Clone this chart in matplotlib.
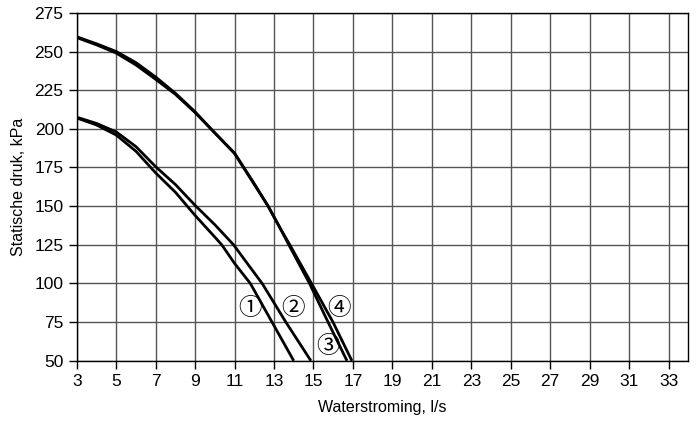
import matplotlib
matplotlib.use("Agg")
import matplotlib.pyplot as plt

# Curve data (flow l/s, static pressure kPa)
c1_x = [3, 4, 5, 6, 7, 8, 8.6, 9, 10, 10.35, 11, 11.8, 12.9, 14.0]
c1_y = [207, 202.5, 196, 185.5, 171.5, 159, 150, 144, 130, 125, 113, 100, 75, 50]

c2_x = [3, 4, 5, 6, 7, 8, 9, 10, 10.95, 11.7, 12.4, 13.6, 14.87]
c2_y = [207.5, 203.5, 198, 188.5, 175.5, 164, 150.5, 138, 125, 112, 100, 75, 50]

c3_x = [3, 4, 5, 6, 7, 8, 9, 9.8, 11, 12, 12.7, 13.3, 13.75, 14.8, 15.74, 16.7]
c3_y = [259, 254.3, 249, 241.3, 232, 222.3, 210.5, 200, 184, 164, 150, 136, 125, 100, 75, 50]

c4_x = [3, 4, 5, 6, 7, 8, 9, 9.8, 11, 12, 12.7, 13.3, 13.8, 14.9, 15.99, 16.95]
c4_y = [259.5, 255, 250, 242.8, 233.5, 223, 211, 200, 184.3, 164.5, 150, 136, 125, 100, 75, 50]

curve_labels = ["\u2460", "\u2461", "\u2462", "\u2463"]
label_x = [11.76, 13.95, 15.74, 16.32]
label_y = [84, 84, 59, 84]

x_ticks = list(range(3, 34, 2))
y_ticks = list(range(50, 276, 25))

plt.rcParams['font.family'] = ['Liberation Sans', 'DejaVu Sans']

fig = plt.figure(figsize=(6.98, 4.28), dpi=100)
ax = fig.add_axes([0.110, 0.157, 0.876, 0.813])

for xs, ys in [(c1_x, c1_y), (c2_x, c2_y), (c3_x, c3_y), (c4_x, c4_y)]:
    ax.plot(xs, ys, color='black', lw=2.0, solid_capstyle='butt',
            solid_joinstyle='round', zorder=3)

for t, lx, ly in zip(curve_labels, label_x, label_y):
    ax.text(lx, ly, t, ha='center', va='center', fontsize=17,
            family=['Noto Sans CJK JP', 'DejaVu Sans'], zorder=4)

ax.set_xlim(3, 34)
ax.set_ylim(50, 275)
ax.set_xticks(x_ticks)
ax.set_yticks(y_ticks)
ax.grid(True, color='#555555', lw=1.0, zorder=0)
ax.set_axisbelow(True)
ax.tick_params(direction='out', length=6, width=1, labelsize=12.5, colors='black')
for s in ax.spines.values():
    s.set_color('black')
    s.set_linewidth(1.0)

ax.set_xlabel("Waterstroming, l/s", fontsize=11.5, labelpad=8)
ax.set_ylabel("Statische druk, kPa", fontsize=11.5, labelpad=6)

fig.savefig("out.png", dpi=100)
